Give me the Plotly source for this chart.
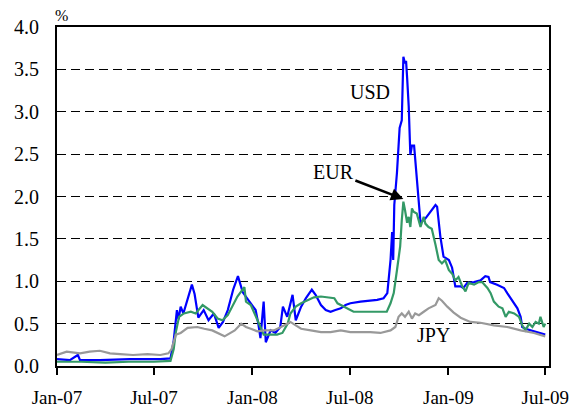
import plotly.graph_objects as go

usd_dates = ["2007-01-01","2007-01-25","2007-02-09","2007-02-13","2007-03-22","2007-05-17","2007-07-13","2007-08-01",
 "2007-08-07","2007-08-11","2007-08-13","2007-08-16","2007-08-20","2007-08-25","2007-09-02","2007-09-10","2007-09-15",
 "2007-09-22","2007-10-02","2007-10-11","2007-10-21","2007-10-30","2007-11-07","2007-11-16","2007-11-26","2007-12-05",
 "2007-12-14","2007-12-22","2007-12-29","2008-01-07","2008-01-12","2008-01-16","2008-01-22","2008-01-26","2008-02-04",
 "2008-02-13","2008-02-22","2008-02-27","2008-03-06","2008-03-12","2008-03-16","2008-03-22","2008-04-01","2008-04-10",
 "2008-04-21","2008-04-28","2008-05-08","2008-05-17","2008-05-26","2008-06-04","2008-06-14","2008-06-23","2008-07-02",
 "2008-07-21","2008-08-08","2008-08-21","2008-09-02","2008-09-09","2008-09-15","2008-09-18","2008-09-20","2008-09-22",
 "2008-09-27","2008-10-02","2008-10-06","2008-10-09","2008-10-12","2008-10-14","2008-10-16","2008-10-19","2008-10-22",
 "2008-10-25","2008-10-29","2008-11-03","2008-11-10","2008-11-19","2008-11-28","2008-12-08","2008-12-11","2008-12-17",
 "2008-12-23","2009-01-02","2009-01-08","2009-01-14","2009-01-24","2009-01-29","2009-02-05","2009-02-18","2009-03-02",
 "2009-03-11","2009-03-17","2009-03-20","2009-04-02","2009-04-15","2009-04-21","2009-04-30","2009-05-10","2009-05-16",
 "2009-05-19","2009-05-25","2009-06-04","2009-06-16","2009-07-01"]
usd_values = [0.08,0.07,0.13,0.07,0.07,0.08,0.08,0.09,
 0.30,0.50,0.66,0.55,0.70,0.62,0.80,0.96,0.85,
 0.57,0.66,0.54,0.62,0.45,0.52,0.66,0.90,1.06,
 0.87,0.80,0.74,0.66,0.50,0.33,0.76,0.28,0.42,
 0.39,0.46,0.70,0.58,0.72,0.84,0.54,0.70,0.80,
 0.90,0.84,0.72,0.66,0.64,0.66,0.68,0.72,0.74,
 0.76,0.77,0.78,0.80,0.86,1.25,1.58,1.25,1.90,
 2.28,2.81,2.90,3.65,3.57,3.60,3.40,3.06,2.49,
 2.60,2.60,2.20,1.69,1.74,1.82,1.90,1.88,1.53,
 1.29,1.25,1.16,0.94,0.94,0.92,0.98,0.99,1.01,
 1.06,1.05,0.99,0.96,0.92,0.86,0.78,0.68,0.58,
 0.46,0.44,0.42,0.40,0.37]

eur_dates = ["2007-01-01","2007-02-15","2007-04-01","2007-05-15","2007-07-01","2007-08-01","2007-08-07","2007-08-11",
 "2007-08-17","2007-08-26","2007-09-08","2007-09-17","2007-09-30","2007-10-09","2007-10-18","2007-10-28","2007-11-06",
 "2007-11-16","2007-11-25","2007-12-04","2007-12-17","2007-12-20","2007-12-29","2008-01-07","2008-01-16","2008-01-22",
 "2008-02-04","2008-02-16","2008-02-26","2008-03-07","2008-03-12","2008-03-22","2008-04-01","2008-04-13","2008-04-25",
 "2008-05-08","2008-05-20","2008-06-02","2008-06-08","2008-06-14","2008-06-26","2008-07-08","2008-08-02","2008-09-08",
 "2008-09-15","2008-09-21","2008-09-27","2008-10-03","2008-10-06","2008-10-09","2008-10-12","2008-10-16","2008-10-19",
 "2008-10-22","2008-10-25","2008-10-28","2008-11-03","2008-11-10","2008-11-16","2008-11-19","2008-11-25","2008-12-01",
 "2008-12-08","2008-12-14","2008-12-20","2008-12-26","2009-01-02","2009-01-08","2009-01-14","2009-01-20","2009-01-27",
 "2009-02-02","2009-02-08","2009-02-18","2009-02-27","2009-03-05","2009-03-15","2009-03-21","2009-03-27","2009-04-05",
 "2009-04-12","2009-04-18","2009-04-24","2009-05-04","2009-05-13","2009-05-19","2009-05-25","2009-06-01","2009-06-07",
 "2009-06-13","2009-06-19","2009-06-22","2009-06-25","2009-06-28","2009-07-01"]
eur_values = [0.05,0.05,0.04,0.05,0.05,0.06,0.20,0.40,
 0.58,0.62,0.64,0.62,0.72,0.68,0.64,0.56,0.54,
 0.60,0.72,0.82,0.93,0.76,0.72,0.60,0.46,0.37,
 0.37,0.37,0.39,0.50,0.62,0.70,0.74,0.78,0.81,
 0.82,0.81,0.80,0.74,0.72,0.68,0.64,0.64,0.64,
 0.74,0.86,1.13,1.41,1.72,1.94,1.84,1.69,1.76,
 1.64,1.86,1.82,1.80,1.64,1.76,1.68,1.64,1.62,
 1.43,1.25,1.21,1.25,1.13,1.09,1.01,1.05,0.94,
 0.88,0.98,0.96,0.99,0.99,0.92,0.86,0.76,0.70,
 0.68,0.58,0.64,0.62,0.58,0.48,0.42,0.50,0.46,
 0.52,0.50,0.58,0.52,0.46,0.50]

jpy_dates = ["2007-01-01","2007-01-19","2007-02-13","2007-03-03","2007-03-22","2007-04-10","2007-04-29","2007-05-23",
 "2007-06-19","2007-07-13","2007-07-28","2007-08-03","2007-08-11","2007-08-20","2007-09-02","2007-09-20","2007-10-03",
 "2007-10-18","2007-11-10","2007-11-29","2007-12-11","2007-12-20","2007-12-29","2008-01-10","2008-01-23","2008-02-10",
 "2008-03-01","2008-03-12","2008-03-22","2008-04-01","2008-04-19","2008-05-08","2008-05-26","2008-06-14","2008-07-02",
 "2008-07-21","2008-08-08","2008-08-27","2008-09-15","2008-09-24","2008-09-30","2008-10-06","2008-10-12","2008-10-19",
 "2008-10-25","2008-10-31","2008-11-07","2008-11-16","2008-11-25","2008-12-08","2008-12-14","2008-12-20","2008-12-30",
 "2009-01-11","2009-01-24","2009-02-11","2009-03-02","2009-03-27","2009-04-21","2009-05-16","2009-06-10","2009-07-01"]
jpy_values = [0.13,0.17,0.15,0.17,0.18,0.15,0.14,0.13,
 0.14,0.13,0.15,0.20,0.37,0.39,0.45,0.46,0.44,
 0.42,0.35,0.42,0.50,0.46,0.44,0.41,0.42,0.42,
 0.48,0.52,0.48,0.44,0.42,0.40,0.40,0.42,0.40,
 0.40,0.40,0.39,0.42,0.46,0.58,0.62,0.58,0.64,
 0.56,0.62,0.60,0.64,0.68,0.72,0.80,0.77,0.70,
 0.63,0.57,0.52,0.51,0.48,0.46,0.42,0.39,0.35]

FONT = "'Times New Roman', Times, 'Liberation Serif', 'DejaVu Serif', serif"

fig = go.Figure()
fig.add_trace(go.Scatter(x=usd_dates, y=usd_values, mode="lines", name="USD",
                         line=dict(color="#0000FF", width=2.2)))
fig.add_trace(go.Scatter(x=eur_dates, y=eur_values, mode="lines", name="EUR",
                         line=dict(color="#339966", width=2.2)))
fig.add_trace(go.Scatter(x=jpy_dates, y=jpy_values, mode="lines", name="JPY",
                         line=dict(color="#999999", width=2.2)))

fig.add_annotation(x="2008-08-08", y=3.23, text="USD", showarrow=False,
                   font=dict(family=FONT, size=20, color="black"))
fig.add_annotation(x="2008-12-04", y=0.37, text="JPY", showarrow=False,
                   font=dict(family=FONT, size=20, color="black"))
fig.add_annotation(x="2008-10-09", y=1.97, text="EUR", showarrow=True,
                   ax=-70, ay=-27, arrowhead=2, arrowsize=1, arrowwidth=2.5,
                   arrowcolor="black", standoff=0,
                   font=dict(family=FONT, size=20, color="black"))
fig.add_annotation(xref="paper", yref="paper", x=0.01, y=1.035, text="%",
                   showarrow=False, xanchor="center", yanchor="middle",
                   font=dict(family=FONT, size=16, color="black"))

fig.update_layout(
    width=580, height=408,
    margin=dict(l=49, r=39, t=19, b=50, autoexpand=False),
    paper_bgcolor="white", plot_bgcolor="white",
    showlegend=False,
    font=dict(family=FONT, size=19, color="black"),
)
fig.update_xaxes(type="date", range=["2007-01-01", "2009-07-08"],
                 tick0="2007-01-01", dtick="M6", tickformat="%b-%y",
                 ticks="outside", ticklen=7, tickwidth=2, tickcolor="black",
                 showline=True, linewidth=2, linecolor="black", mirror=True,
                 showgrid=False, ticklabelstandoff=6, automargin=False,
                 tickfont=dict(family=FONT, size=19, color="black"))
fig.update_yaxes(range=[0, 4], dtick=0.5, tick0=0, tickformat=".1f",
                 showline=True, linewidth=2, linecolor="black", mirror=True,
                 showgrid=True, gridcolor="black", gridwidth=1,
                 griddash="9px,5px", zeroline=False, ticks="",
                 ticklabelstandoff=12, automargin=False,
                 tickfont=dict(family=FONT, size=20, color="black"))

fig.write_html("out.html")
